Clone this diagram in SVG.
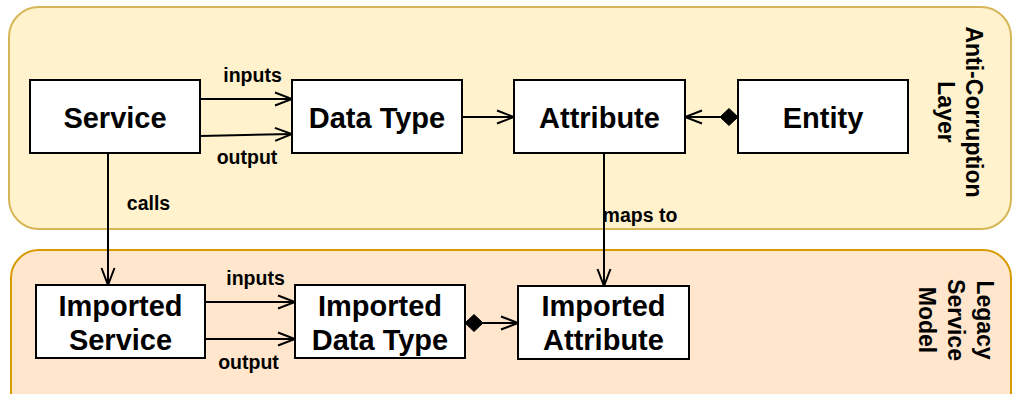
<svg xmlns="http://www.w3.org/2000/svg" width="1013" height="394" viewBox="0 0 1013 394">
<style>
.node rect{fill:#ffffff;stroke:#000000;stroke-width:2}
.nt{font-family:"Liberation Sans",Arial,sans-serif;font-weight:bold;font-size:29px;fill:#000;text-anchor:middle}
.el{font-family:"Liberation Sans",Arial,sans-serif;font-weight:bold;font-size:19.5px;fill:#000;text-anchor:middle}
.gl{font-family:"Liberation Sans",Arial,sans-serif;font-weight:bold;font-size:23px;fill:#000;text-anchor:middle}
.edge{fill:none;stroke:#000;stroke-width:2}
</style>
<defs>
<marker id="open" viewBox="0 0 20 16" refX="18" refY="8" markerWidth="20" markerHeight="16" markerUnits="userSpaceOnUse" orient="auto">
<path d="M1,1.5 L18,8 L1,14.5" fill="none" stroke="#000" stroke-width="2"/>
</marker>
<marker id="diamond" viewBox="0 0 20 20" refX="1" refY="10" markerWidth="20" markerHeight="20" markerUnits="userSpaceOnUse" orient="auto">
<path d="M1,10 L10,1.5 L19,10 L10,18.5 Z" fill="#000" stroke="#000" stroke-width="1"/>
</marker>
</defs>

<g id="acl-layer">
<rect x="9" y="7" width="1002" height="222" rx="30" ry="30" fill="#fff2cc" stroke="#d6b656" stroke-width="2"/>
<text class="gl" transform="translate(966,112) rotate(90)"><tspan x="0" y="0">Anti-Corruption</tspan><tspan x="0" y="28">Layer</tspan></text>
</g>
<g id="legacy-layer">
<rect x="11" y="250" width="1000" height="170" rx="28" ry="28" fill="#ffe6cc" stroke="#d79b00" stroke-width="2"/>
<text class="gl" transform="translate(977,320) rotate(90)"><tspan x="0" y="0">Legacy</tspan><tspan x="0" y="29">Service</tspan><tspan x="0" y="58">Model</tspan></text>
</g>

<g id="connectors">
<path class="edge" d="M200,99 L292,99" marker-end="url(#open)"/>
<path class="edge" d="M200,136 L292,134" marker-end="url(#open)"/>
<path class="edge" d="M462,117 L514,117" marker-end="url(#open)"/>
<path class="edge" d="M738,117 L685,117" marker-start="url(#diamond)" marker-end="url(#open)"/>
<path class="edge" d="M108,153 L108,285" marker-end="url(#open)"/>
<path class="edge" d="M604,153 L604,286" marker-end="url(#open)"/>
<path class="edge" d="M205,302 L295,302" marker-end="url(#open)"/>
<path class="edge" d="M205,339 L295,339" marker-end="url(#open)"/>
<path class="edge" d="M465,323 L518,323" marker-start="url(#diamond)" marker-end="url(#open)"/>
<text class="el" x="252.5" y="82">inputs</text>
<text class="el" x="247" y="164">output</text>
<text class="el" x="148.5" y="210">calls</text>
<text class="el" x="640" y="222">maps to</text>
<text class="el" x="255.5" y="285">inputs</text>
<text class="el" x="248.5" y="369">output</text>
</g>

<g id="service" class="node"><rect x="30" y="80" width="170" height="73"/><text class="nt" x="115" y="128">Service</text></g>
<g id="data-type" class="node"><rect x="292" y="80" width="170" height="73"/><text class="nt" x="377" y="128">Data Type</text></g>
<g id="attribute" class="node"><rect x="514" y="80" width="171" height="73"/><text class="nt" x="599.5" y="128">Attribute</text></g>
<g id="entity" class="node"><rect x="738" y="80" width="170" height="73"/><text class="nt" x="823" y="128">Entity</text></g>
<g id="imported-service" class="node"><rect x="36" y="285" width="169" height="73"/><text class="nt" x="120.5" y="316">Imported</text><text class="nt" x="120.5" y="350">Service</text></g>
<g id="imported-data-type" class="node"><rect x="295" y="285" width="170" height="73"/><text class="nt" x="380" y="316">Imported</text><text class="nt" x="380" y="350">Data Type</text></g>
<g id="imported-attribute" class="node"><rect x="518" y="286" width="171" height="73"/><text class="nt" x="603.5" y="316">Imported</text><text class="nt" x="603.5" y="350">Attribute</text></g>
</svg>
